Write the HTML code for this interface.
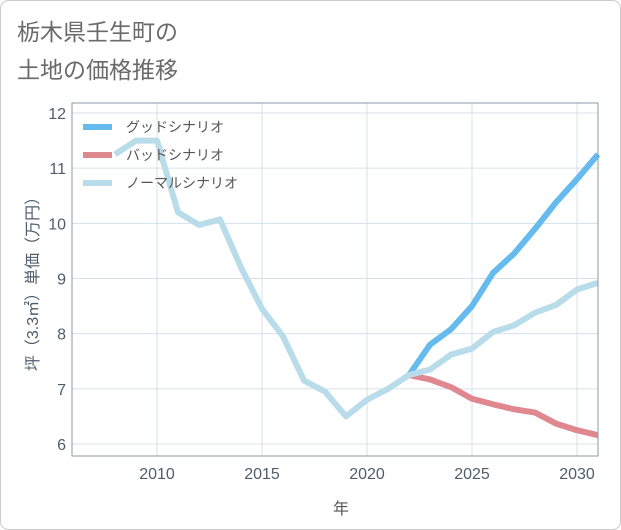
<!DOCTYPE html>
<html><head><meta charset="utf-8"><style>
body{margin:0;background:#fff;}
svg{display:block;font-family:"Liberation Sans","Noto Sans CJK JP",sans-serif;}
</style></head><body>
<svg id="c" width="621" height="530">
<rect x="0.5" y="0.5" width="620" height="529" rx="8" fill="#fff" stroke="#ccc"/>
<text x="17" y="40" font-size="23" fill="#6a6a6a">栃木県壬生町の</text>
<text x="17" y="78" font-size="23" fill="#6a6a6a">土地の価格推移</text>
<g id="grid"></g>
<g id="lines"></g>
<rect x="72" y="103" width="526" height="353" fill="none" stroke="#8a9aa8"/>
<g id="ticks"></g>
<text x="341" y="514" font-size="16" fill="#555" text-anchor="middle">年</text>
<text transform="translate(38,280) rotate(-90)" font-size="16" fill="#4e5d6c" text-anchor="middle">坪（3.3㎡）単価（万円）</text>
<g>
<line x1="83" y1="127" x2="112" y2="127" stroke="#66bbee" stroke-width="6"/>
<text x="126" y="132" font-size="14" fill="#555">グッドシナリオ</text>
<line x1="83" y1="155" x2="112" y2="155" stroke="#e0888f" stroke-width="6"/>
<text x="126" y="160" font-size="14" fill="#555">バッドシナリオ</text>
<line x1="83" y1="183" x2="112" y2="183" stroke="#b8dcea" stroke-width="6"/>
<text x="126" y="188" font-size="14" fill="#555">ノーマルシナリオ</text>
</g>
</svg>
<script>
const normalYears=[2008,2009,2010,2011,2012,2013,2014,2015,2016,2017,2018,2019,2020,2021,2022,2023,2024,2025,2026,2027,2028,2029,2030,2031];
const normalValues=[11.25,11.5,11.5,10.2,9.97,10.07,9.2,8.45,7.95,7.15,6.95,6.5,6.8,7.0,7.25,7.35,7.62,7.73,8.03,8.15,8.38,8.52,8.8,8.92];
const forecastYears=[2022,2023,2024,2025,2026,2027,2028,2029,2030,2031];
const goodValues=[7.25,7.8,8.08,8.5,9.1,9.45,9.9,10.38,10.8,11.25];
const badValues=[7.25,7.17,7.03,6.82,6.72,6.63,6.57,6.37,6.25,6.16];
const xTicks=[2010,2015,2020,2025,2030];
const yTicks=[6,7,8,9,10,11,12];
const X=y=>157+(y-2010)*21;
const Y=v=>444-(v-6)*55.17;
const NS="http://www.w3.org/2000/svg";
const grid=document.getElementById('grid'),ticks=document.getElementById('ticks'),lines=document.getElementById('lines');
function mk(tag,attrs,parent){const e=document.createElementNS(NS,tag);for(const k in attrs)e.setAttribute(k,attrs[k]);parent.appendChild(e);return e;}
xTicks.forEach(t=>{
 const l=mk('line',{x1:X(t),x2:X(t),y1:103,y2:456,stroke:'#d5e0ea'},grid);
 
 
 const tx=mk('text',{x:X(t),y:479,'font-size':16,fill:'#4e5d6c','text-anchor':'middle'},ticks);
 tx.textContent=t;
 
 
});
yTicks.forEach(t=>{
 const l=mk('line',{x1:72,x2:598,y1:Y(t),y2:Y(t),stroke:'#d5e0ea'},grid);
 
 
 const tx=mk('text',{x:66,y:Y(t)+6,'font-size':16,fill:'#4e5d6c','text-anchor':'end'},ticks);
 tx.textContent=t;
 
 
});
function series(xs,vs,color,name){
 const p=mk('polyline',{points:xs.map((x,i)=>X(x)+','+Y(vs[i])).join(' '),fill:'none',stroke:color,'stroke-width':6,'stroke-linejoin':'round'},lines);
 
 
}
series(forecastYears,badValues,'#e0888f','bad-scenario-line');
series(forecastYears,goodValues,'#66bbee','good-scenario-line');
series(normalYears,normalValues,'#b8dcea','normal-scenario-line');
</script>
</body></html>
